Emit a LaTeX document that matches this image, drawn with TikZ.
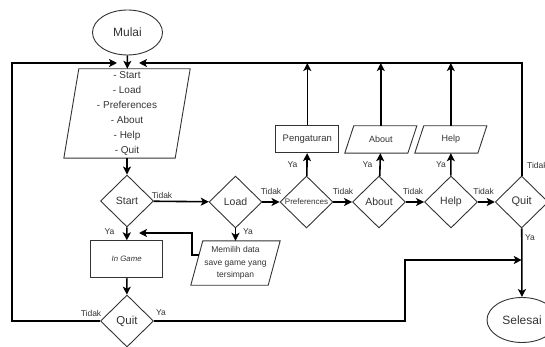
\documentclass[tikz,border=0pt]{standalone}
\usepackage{fontspec}
\setmainfont{Liberation Sans}
\usetikzlibrary{shapes.geometric,arrows.meta,calc}
\tikzset{
  txt/.style={text=black!80},
  shapeborder/.style={draw=black!80, line width=0.9pt},
  term/.style={ellipse, shapeborder, txt, inner sep=0pt, minimum width=70pt, minimum height=45pt, font=\fontsize{12}{14}\selectfont},
  decision/.style={diamond, shapeborder, txt, inner sep=0pt, aspect=1, minimum width=53pt, minimum height=52pt, font=\fontsize{10.5}{12}\selectfont},
  procbox/.style={rectangle, shapeborder, txt, inner sep=0pt},
  parabody/.style={rectangle, txt, inner sep=0pt, align=center},
  conn/.style={line width=1.6pt, draw=black, -{Stealth[length=8pt,width=8pt,inset=2pt]}},
  lbl/.style={txt, inner sep=0pt, font=\fontsize{8.5}{10}\selectfont},
}
\newcommand\drawpara[2]{\draw[shapeborder] ([xshift=-#2/2]#1.south west) -- ([xshift=-#2/2]#1.south east) -- ([xshift=#2/2]#1.north east) -- ([xshift=#2/2]#1.north west) -- cycle;}
\begin{document}
\begin{tikzpicture}[x=1pt,y=-1pt]
\useasboundingbox (0,0) rectangle (545,347);
% nodes
\node[term] (mulai) at (127.5,32.5) {Mulai};
\node[parabody, minimum width=111pt, minimum height=89pt, font=\fontsize{10}{15}\selectfont] (menu) at (127,113.5)
  {- Start\\- Load\\- Preferences\\- About\\- Help\\- Quit};
\drawpara{menu}{15}
\node[decision] (start) at (127,201) {Start};
\node[decision] (load) at (235.5,202) {Load};
\node[decision, font=\fontsize{8}{9}\selectfont] (pref) at (306.5,202) {Preferences};
\node[decision] (aboutd) at (379,202) {About};
\node[decision] (helpd) at (451,202) {Help};
\node[decision, font=\fontsize{11}{12}\selectfont] (quitr) at (521.7,202) {Quit};
\node[procbox, minimum width=63pt, minimum height=27pt, font=\fontsize{9.5}{11}\selectfont] (peng) at (307.3,139.2) {Pengaturan};
\node[parabody, minimum width=62.7pt, minimum height=27pt, font=\fontsize{9}{11}\selectfont] (aboutb) at (380.8,139.5) {About};
\drawpara{aboutb}{9}
\node[parabody, minimum width=62.7pt, minimum height=27pt, font=\fontsize{9}{11}\selectfont] (helpb) at (450.8,139.5) {Help};
\drawpara{helpb}{9}
\node[procbox, minimum width=72pt, minimum height=37pt, font=\fontsize{7.8}{9}\selectfont\itshape] (ingame) at (126.7,259.3) {In Game};
\node[parabody, minimum width=77pt, minimum height=44pt, font=\fontsize{8.5}{12.5}\selectfont] (mem) at (235.5,263)
  {Memilih data\\save game yang\\tersimpan};
\drawpara{mem}{12}
\node[decision, font=\fontsize{11.5}{12}\selectfont] (quitb) at (127,321) {Quit};
\node[term] (selesai) at (522,320) {Selesai};
% coordinates
\coordinate (topline) at (0,63);
\coordinate (lin) at (117,63);
\coordinate (lx) at (12,63);
\coordinate (rin) at (139,63);
\coordinate (mx) at (192,233);
\coordinate (min) at (139,233);
\coordinate (yb) at (405,260);
% connectors
\draw[conn] (mulai) -- (menu);
\draw[conn] (menu) -- (start);
\draw[conn] (start) -- (load);
\draw[conn] (load) -- (pref);
\draw[conn] (pref) -- (aboutd);
\draw[conn] (aboutd) -- (helpd);
\draw[conn] (helpd) -- (quitr);
\draw[conn] (pref) -- (peng);
\draw[conn] (aboutd) -- (aboutb);
\draw[conn] (helpd) -- (helpb);
\draw[conn] (peng.north) -- (peng.north |- topline);
\draw[conn] (aboutb.north) -- (aboutb.north |- topline);
\draw[conn] (helpb.north) -- (helpb.north |- topline);
\draw[conn] (quitr.north) |- (rin);
\draw[conn] (quitb.west) -| (lx) -- (lin);
\draw[conn] (start) -- (ingame);
\draw[conn] (ingame) -- (quitb);
\draw[conn] (load) -- (mem);
\draw[conn] ($(mem.west)+(2.2,-8)$) -| (mx) -- (min);
\draw[conn] (quitb.east) -| (yb) -- (yb -| quitr);
\draw[conn] (quitr) -- (selesai);
% labels
\node[lbl] (t1) at (162,195.5) {Tidak};
\node[lbl] (t2) at (271,191) {Tidak};
\node[lbl] (t3) at (343,191) {Tidak};
\node[lbl] (t4) at (413,191) {Tidak};
\node[lbl] (t5) at (483.7,191) {Tidak};
\node[lbl, anchor=west] (t6) at (527,165) {Tidak};
\node[lbl] (y1) at (292.5,165) {Ya};
\node[lbl] (y2) at (367.5,165) {Ya};
\node[lbl] (y3) at (441,165) {Ya};
\node[lbl] (y4) at (109.5,232) {Ya};
\node[lbl] (y5) at (248,232) {Ya};
\node[lbl] (y6) at (530,238) {Ya};
\node[lbl] (t7) at (91,313) {Tidak};
\node[lbl] (y7) at (161,313) {Ya};
\end{tikzpicture}
\end{document}
